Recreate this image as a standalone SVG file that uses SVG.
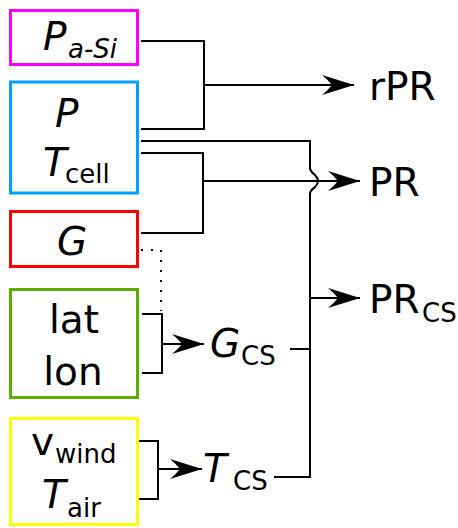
<svg xmlns="http://www.w3.org/2000/svg" width="458" height="528" viewBox="0 0 458 528">
<style>
.box{fill:#fff;stroke-width:3}
.ln{fill:none;stroke:#000;stroke-width:2}
.arr{fill:none;stroke:#000;stroke-width:2;marker-end:url(#ah)}
.dot{fill:none;stroke:#000;stroke-width:2;stroke-dasharray:2 8}
text{font-family:"DejaVu Sans",sans-serif;fill:#000}
.big{font-size:39px}
.sub{font-size:26px}
.it{font-style:italic}
</style>
<defs>
<marker id="ah" markerUnits="userSpaceOnUse" markerWidth="34" markerHeight="24" refX="32" refY="12" orient="auto" viewBox="0 0 34 24">
<path d="M32,12 L0,2 Q6,7 10,12 Q6,17 0,22 Z" fill="#000"/>
</marker>
</defs>
<rect width="458" height="528" fill="#fff"/>
<g id="connectors">
<path class="ln" d="M141,41 H204 V129 H141"/>
<path class="arr" d="M204,85 H354"/>
<path class="ln" d="M141,141 H310 V168 C310,172 313,173 315,175 C317,177 318,179 318,181 C318,183 317,185 315,187 C313,189 310,190 310,194 V477 H274"/>
<path class="ln" d="M141,153 H203 V233 H141"/>
<path class="arr" d="M203,181 H360"/>
<path class="arr" d="M310,298 H360"/>
<path class="ln" d="M290,349 H310"/>
<path class="dot" d="M141,250 H161 V311"/>
<path class="ln" d="M142,314 H162 V373 H142"/>
<path class="arr" d="M162,344 H204"/>
<path class="ln" d="M139,441 H158 V499 H139"/>
<path class="arr" d="M158,469 H202"/>
</g>
<g id="n-pasi">
<rect class="box" x="10.5" y="10.5" width="127" height="54" stroke="#ff00ff"/>
<text class="big it" x="43" y="50">P</text><text class="sub it" x="68" y="58">a-Si</text>
</g>
<g id="n-p-tcell">
<rect class="box" x="10.5" y="82" width="127" height="111" stroke="#00a0ff"/>
<text class="big it" x="55" y="127">P</text>
<text class="big it" x="43" y="176">T</text><text class="sub" x="65" y="183">cell</text>
</g>
<g id="n-g">
<rect class="box" x="10.5" y="211.5" width="127" height="55" stroke="#ff0000"/>
<text class="big it" x="57" y="255">G</text>
</g>
<g id="n-latlon">
<rect class="box" x="10.5" y="289.5" width="127" height="108" stroke="#5aaf00"/>
<text class="big" x="74" y="333" text-anchor="middle">lat</text>
<text class="big" x="73" y="385" text-anchor="middle">lon</text>
</g>
<g id="n-wind-air">
<rect class="box" x="10.5" y="418.5" width="127" height="106" stroke="#ffff00"/>
<text class="big" x="31" y="455">v</text><text class="sub" x="55" y="463">wind</text>
<text class="big it" x="42" y="508">T</text><text class="sub" x="67" y="517">air</text>
</g>
<g id="n-gcs">
<text class="big it" x="210" y="357">G</text><text class="sub" x="241" y="365">CS</text>
</g>
<g id="n-tcs">
<text class="big it" x="203" y="482">T</text><text class="sub" x="233" y="490">CS</text>
</g>
<g id="n-rpr"><text class="big" x="369" y="100">rPR</text></g>
<g id="n-pr"><text class="big" x="369" y="196">PR</text></g>
<g id="n-prcs"><text class="big" x="369" y="313">PR</text><text class="sub" x="422" y="322">CS</text></g>
</svg>
